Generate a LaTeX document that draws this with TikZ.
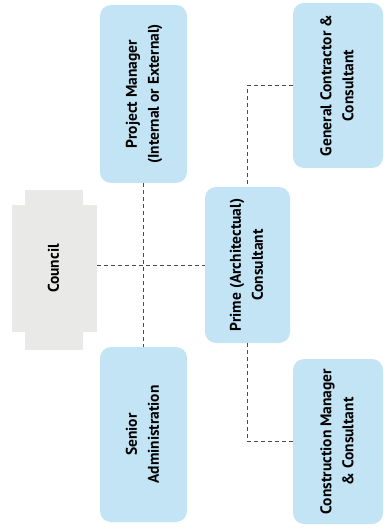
\documentclass[tikz,border=0pt]{standalone}
\usepackage{fontspec}
\setmainfont{PT Sans}
\definecolor{boxblue}{HTML}{C2E4F5}
\definecolor{councilgray}{HTML}{E9E9E7}
\definecolor{linegray}{HTML}{4A4A4A}
\newcommand{\vlabel}[1]{\rotatebox{90}{\fontsize{15.5}{22}\selectfont\bfseries\begin{tabular}{@{}c@{}}#1\end{tabular}}}
\tikzset{
  bluebox/.style={fill=boxblue, rounded corners=11pt, inner sep=0pt, text=black},
  graybox/.style={fill=councilgray, inner sep=0pt, text=black},
  conn/.style={draw=linegray, line width=1pt, dash pattern=on 4pt off 3pt},
}
\begin{document}
\begin{tikzpicture}[x=1pt, y=-1pt]
\useasboundingbox (0,0) rectangle (383,529);
\fill[councilgray] (25,190) rectangle (83,350);
\node[graybox, minimum width=85pt, minimum height=127pt] (council) at (54.5,268.5) {\vlabel{Council}};
\node[bluebox, minimum width=87pt, minimum height=178pt] (pm) at (143.5,94) {\vlabel{Project Manager\\(Internal or External)}};
\node[bluebox, minimum width=87pt, minimum height=175pt] (sa) at (143.5,434.5) {\vlabel{Senior\\Administration}};
\node[bluebox, minimum width=85pt, minimum height=156pt] (prime) at (247.5,265) {\vlabel{Prime (Architectual)\\Consultant}};
\node[bluebox, minimum width=90pt, minimum height=165pt] (gc) at (338,85.5) {\vlabel{General Contractor \&\\Consultant}};
\node[bluebox, minimum width=90pt, minimum height=165pt] (cm) at (338,441.5) {\vlabel{Construction Manager\\\& Consultant}};
\draw[conn] (pm.south) -- (sa.north);
\draw[conn] (prime.west -| council.east) -- (prime.west);
\draw[conn] (gc.west) -| (prime.north);
\draw[conn] (cm.west) -| (prime.south);
\end{tikzpicture}
\end{document}
